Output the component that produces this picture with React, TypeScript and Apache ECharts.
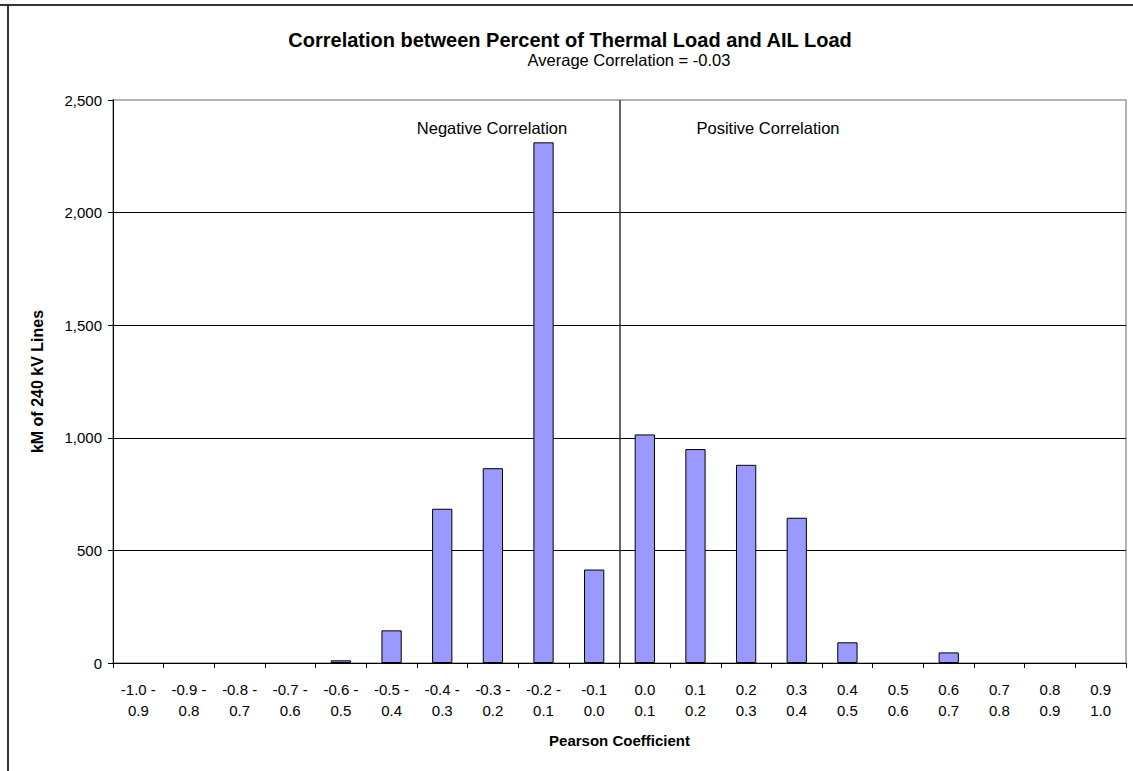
import React, { useEffect, useRef } from "react";
import * as echarts from "echarts";

const lowerLabels = ["-1.0 -", "-0.9 -", "-0.8 -", "-0.7 -", "-0.6 -", "-0.5 -", "-0.4 -", "-0.3 -", "-0.2 -", "-0.1", "0.0", "0.1", "0.2", "0.3", "0.4", "0.5", "0.6", "0.7", "0.8", "0.9"];
const upperLabels = ["0.9", "0.8", "0.7", "0.6", "0.5", "0.4", "0.3", "0.2", "0.1", "0.0", "0.1", "0.2", "0.3", "0.4", "0.5", "0.6", "0.7", "0.8", "0.9", "1.0"];
const kmValues = [0, 0, 0, 0, 12, 145, 685, 865, 2312, 415, 1015, 950, 880, 645, 92, 0, 47, 0, 0, 0];
const yTicks = { min: 0, max: 2500, interval: 500 };
const dividerAt = 10;

const FONT = "'Liberation Sans', Arial, sans-serif";

export default function App() {
  const ref = useRef<HTMLDivElement>(null);
  useEffect(() => {
    const chart = echarts.init(ref.current!, null, { renderer: "svg" });
    const categories = lowerLabels.map((l, i) => l + "\n" + upperLabels[i]);
    const barData = kmValues.map((v) =>
      v === 0 ? { value: v, itemStyle: { borderWidth: 0 } } : v
    );
    chart.setOption({
      animation: false,
      backgroundColor: "#ffffff",
      textStyle: { fontFamily: FONT },
      grid: {
        left: 113,
        right: 7,
        top: 100,
        bottom: 108,
        show: true,
        borderColor: "#9a9a9a",
        borderWidth: 1.5,
        backgroundColor: "transparent",
      },
      xAxis: [
        {
          type: "category",
          data: categories,
          boundaryGap: true,
          axisLine: { show: true, lineStyle: { color: "#000", width: 1 } },
          axisTick: { show: true, length: 5, interval: 0, lineStyle: { color: "#000" } },
          axisLabel: {
            interval: 0,
            color: "#000",
            fontSize: 15,
            fontFamily: FONT,
            lineHeight: 21,
            margin: 16,
          },
          name: "Pearson Coefficient",
          nameLocation: "middle",
          nameGap: 70,
          nameTextStyle: { fontSize: 15, fontWeight: "bold", color: "#000", fontFamily: FONT },
        },
        {
          type: "value",
          min: 0,
          max: lowerLabels.length,
          show: false,
          position: "bottom",
        },
      ],
      yAxis: {
        type: "value",
        min: yTicks.min,
        max: yTicks.max,
        interval: yTicks.interval,
        axisLine: { show: true, lineStyle: { color: "#000", width: 1 } },
        axisTick: { show: true, length: 5, lineStyle: { color: "#000" } },
        splitLine: { show: true, showMinLine: false, showMaxLine: false, lineStyle: { color: "#000", width: 1 } },
        axisLabel: {
          color: "#000",
          fontSize: 15,
          fontFamily: FONT,
          margin: 11,
          formatter: (v: number) => v.toLocaleString("en-US"),
        },
        name: "kM of 240 kV Lines",
        nameLocation: "middle",
        nameGap: 68,
        nameTextStyle: { fontSize: 16, fontWeight: "bold", color: "#000", fontFamily: FONT },
      },
      series: [
        {
          type: "bar",
          data: barData,
          xAxisIndex: 0,
          barWidth: "40%",
          itemStyle: { color: "#9999FF", borderColor: "#000", borderWidth: 1 },
        },
        {
          type: "line",
          xAxisIndex: 1,
          data: [],
          markLine: {
            silent: true,
            symbol: "none",
            label: { show: false },
            lineStyle: { color: "#333", width: 1.5, type: "solid" },
            data: [{ xAxis: dividerAt }],
          },
        },
      ],
      graphic: [
        { type: "line", shape: { x1: 0, y1: 5, x2: 1133, y2: 5 }, style: { stroke: "#333", lineWidth: 2 } },
        { type: "line", shape: { x1: 8, y1: 4, x2: 8, y2: 771 }, style: { stroke: "#333", lineWidth: 2 } },
        {
          type: "text",
          x: 570,
          y: 40,
          style: {
            text: "Correlation between Percent of Thermal Load and AIL Load",
            font: `bold 20px ${FONT}`,
            fill: "#000",
            textAlign: "center",
            textVerticalAlign: "middle",
          },
        },
        {
          type: "text",
          x: 629,
          y: 60,
          style: {
            text: "Average Correlation = -0.03",
            font: `16.5px ${FONT}`,
            fill: "#000",
            textAlign: "center",
            textVerticalAlign: "middle",
          },
        },
        {
          type: "text",
          x: 492,
          y: 128,
          style: {
            text: "Negative Correlation",
            font: `16.5px ${FONT}`,
            fill: "#000",
            textAlign: "center",
            textVerticalAlign: "middle",
          },
        },
        {
          type: "text",
          x: 768,
          y: 128,
          style: {
            text: "Positive Correlation",
            font: `16.5px ${FONT}`,
            fill: "#000",
            textAlign: "center",
            textVerticalAlign: "middle",
          },
        },
      ],
    });
    return () => chart.dispose();
  }, []);
  return (
    <div
      ref={ref}
      style={{ position: "absolute", left: 0, top: 0, width: 1133, height: 771 }}
    />
  );
}
